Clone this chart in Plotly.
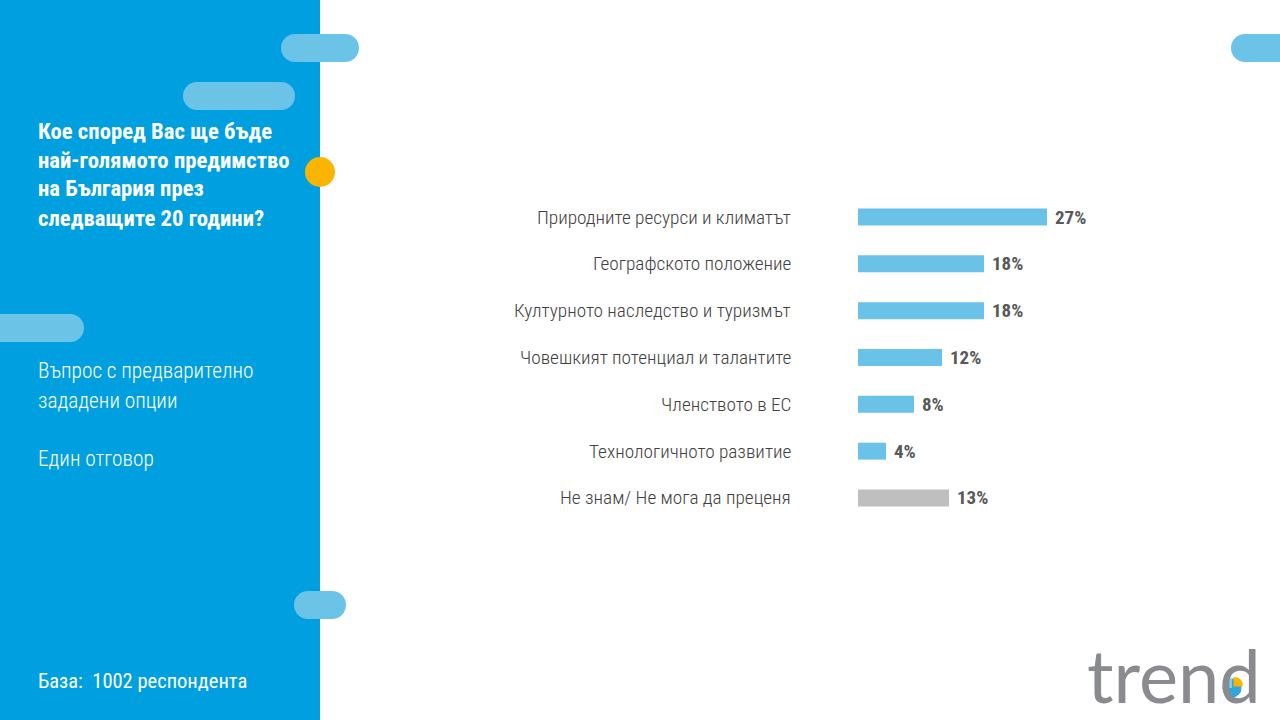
import plotly.graph_objects as go

W, H = 1280, 720

categories = [
    "Природните ресурси и климатът",
    "Географското положение",
    "Културното наследство и туризмът",
    "Човешкият потенциал и талантите",
    "Членството в ЕС",
    "Технологичното развитие",
    "Не знам/ Не мога да преценя",
]
values = [27, 18, 18, 12, 8, 4, 13]
value_labels = ["27%", "18%", "18%", "12%", "8%", "4%", "13%"]

title_lines = [
    "Кое според Вас ще бъде",
    "най-голямото предимство",
    "на България през",
    "следващите 20 години?",
]
note_lines = ["Въпрос с предварително", "зададени опции", "Един отговор"]
base_text = "База:  1002 респондента"
logo_text = "trend"

BLUE_PANEL = "#009fdf"
PILL = "#6cc3e8"
BAR_BLUE = "#6ac2e8"
BAR_GREY = "#bfbfbf"
LABEL_GREY = "#404040"
VALUE_GREY = "#595959"
YELLOW = "#fbb400"
FONT = "Roboto Condensed, Roboto, sans-serif"

bar_colors = [BAR_GREY if c.startswith("Не знам") else BAR_BLUE for c in categories]


def px(x):
    return x / W


def py(y):
    return 1 - y / H


fig = go.Figure()
fig.add_trace(go.Bar(
    x=values, y=categories, orientation="h",
    marker=dict(color=bar_colors, line=dict(width=0)),
    width=0.363, hoverinfo="skip",
))

annotations = []
for c, v, t in zip(categories, values, value_labels):
    annotations.append(dict(x=0, y=c, xref="x", yref="y", text=c, showarrow=False,
                            xanchor="right", yanchor="middle", xshift=-65,
                            font=dict(family=FONT, size=19.25, color=LABEL_GREY, weight=300)))
    annotations.append(dict(x=v, y=c, xref="x", yref="y", text="<b>" + t + "</b>", showarrow=False,
                            xanchor="left", yanchor="middle", xshift=6,
                            font=dict(family=FONT, size=19, color=VALUE_GREY)))

for i, line in enumerate(title_lines):
    annotations.append(dict(x=px(36), y=py(131 + 29 * i), xref="paper", yref="paper",
                            text="<b>" + line + "</b>", showarrow=False, xanchor="left",
                            yanchor="middle", font=dict(family=FONT, size=22.7, color="white")))

for line, yy in zip(note_lines, [371, 400, 459]):
    annotations.append(dict(x=px(36), y=py(yy), xref="paper", yref="paper", text=line,
                            showarrow=False, xanchor="left", yanchor="middle",
                            font=dict(family=FONT, size=21.3, color="white", weight=300)))

annotations.append(dict(x=px(36), y=py(681), xref="paper", yref="paper", text=base_text,
                        showarrow=False, xanchor="left", yanchor="middle",
                        font=dict(family=FONT, size=20.5, color="white")))

annotations.append(dict(x=px(1086), y=0, xref="paper", yref="paper", text=logo_text,
                        showarrow=False, xanchor="left", yanchor="bottom", borderpad=0,
                        font=dict(family="Lato, sans-serif", size=74, color="#8a8b8e")))

shapes = [dict(type="rect", xref="paper", yref="paper", x0=0, x1=px(320), y0=0, y1=1,
               fillcolor=BLUE_PANEL, line=dict(width=0), layer="below")]


def pill(x0, x1, y0, y1, color=PILL):
    r = (y1 - y0) / 2
    out = [dict(type="rect", xref="paper", yref="paper", x0=px(x0 + r), x1=px(x1 - r),
                y0=py(y1), y1=py(y0), fillcolor=color, line=dict(width=0))]
    for cx in (x0 + r, x1 - r):
        out.append(dict(type="circle", xref="paper", yref="paper", x0=px(cx - r), x1=px(cx + r),
                        y0=py(y1), y1=py(y0), fillcolor=color, line=dict(width=0)))
    return out


shapes += pill(281, 359, 34, 62)
shapes += pill(183, 295, 82, 110)
shapes += pill(-20, 84, 314, 342)
shapes += pill(294, 346, 591, 619)
shapes += pill(1231, 1310, 34, 62)
shapes.append(dict(type="circle", xref="paper", yref="paper", x0=px(305), x1=px(335),
                   y0=py(187), y1=py(157), fillcolor=YELLOW, line=dict(width=0)))

# logo pie icon inside the "d" bowl
cx, cy, r = 1232, 688, 9.5
shapes.append(dict(type="circle", xref="paper", yref="paper", x0=px(cx - r), x1=px(cx + r),
                   y0=py(cy + r), y1=py(cy - r), fillcolor="#2ea6df", line=dict(width=0)))
shapes.append(dict(type="path", xref="paper", yref="paper",
                   path=(f"M {px(cx)},{py(cy)} L {px(cx - r)},{py(cy)} "
                         f"Q {px(cx - r)},{py(cy - r)} {px(cx)},{py(cy - r)} Z"),
                   fillcolor="#7fcdf0", line=dict(width=0)))
shapes.append(dict(type="path", xref="paper", yref="paper",
                   path=(f"M {px(cx + 1.5)},{py(cy - 1.5)} L {px(cx + 1.5)},{py(cy - r - 1.5)} "
                         f"Q {px(cx + r + 1.5)},{py(cy - r - 1.5)} {px(cx + r + 1.5)},{py(cy - 1.5)} Z"),
                   fillcolor=YELLOW, line=dict(width=0)))

fig.update_layout(
    width=W, height=H,
    margin=dict(l=0, r=0, t=0, b=0),
    paper_bgcolor="white", plot_bgcolor="rgba(0,0,0,0)",
    showlegend=False,
    xaxis=dict(domain=[px(858), px(1138)], range=[0, 40], visible=False, fixedrange=True),
    yaxis=dict(domain=[py(521.4), py(193.6)], range=[6.5, -0.5], visible=False,
               categoryorder="array", categoryarray=categories, fixedrange=True),
    annotations=annotations,
    shapes=shapes,
)

fig.write_html("out.html", config={"displayModeBar": False})
